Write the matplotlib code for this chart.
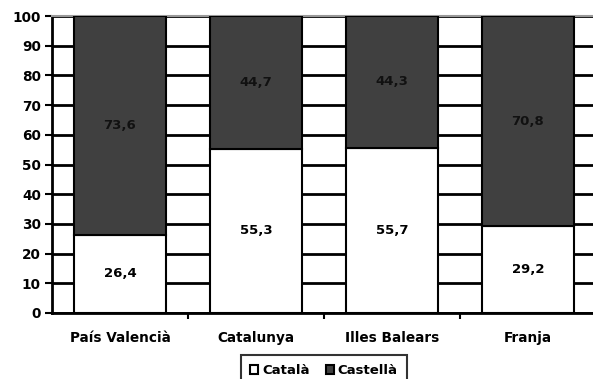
import numpy as np
import matplotlib.pyplot as plt
from matplotlib.patches import Patch

regions = ["País Valencià", "Catalunya", "Illes Balears", "Franja"]
catala = [26.4, 55.3, 55.7, 29.2]
castella = [73.6, 44.7, 44.3, 70.8]
series_names = ["Català", "Castellà"]

plt.rcParams["font.family"] = "DejaVu Sans"
plt.rcParams["font.weight"] = "bold"

fig = plt.figure(figsize=(5.93, 3.79), dpi=100)
ax = fig.add_axes([52 / 593, 1 - 313 / 379, 544 / 593, 297 / 379])

x = np.arange(len(regions))
w = 0.67
ax.bar(x, catala, w, color="white", edgecolor="black", linewidth=1.5, zorder=3)
ax.bar(x, castella, w, bottom=catala, color="#404040", edgecolor="black",
       linewidth=1.5, zorder=3)

for i in range(len(regions)):
    ax.text(x[i], catala[i] / 2, f"{catala[i]:.1f}".replace(".", ","),
            ha="center", va="center", fontsize=9.5, fontweight="bold", zorder=4)
    ax.text(x[i], catala[i] + castella[i] / 2,
            f"{castella[i]:.1f}".replace(".", ","),
            ha="center", va="center", fontsize=9.5, fontweight="bold",
            color="#111111", zorder=4)

ax.set_xlim(-0.5, len(regions) - 0.5)
ax.set_ylim(0, 100)
ax.set_yticks(range(0, 101, 10))
ax.yaxis.grid(True, color="black", linewidth=2)
ax.set_axisbelow(True)

ax.set_xticks(x)
ax.set_xticklabels(regions, fontsize=9.8, fontweight="bold")
ax.set_xticks(x[:-1] + 0.5, minor=True)
ax.tick_params(axis="x", which="major", length=0, pad=13)
ax.tick_params(axis="x", which="minor", length=4, width=1.5)
ax.tick_params(axis="y", length=5, width=1.5, labelsize=9.8, pad=3)
for lbl in ax.get_yticklabels():
    lbl.set_fontweight("bold")

ax.spines["left"].set_linewidth(2)
ax.spines["bottom"].set_linewidth(2)
ax.spines["top"].set_color("#999999")
ax.spines["top"].set_linewidth(1.5)
ax.spines["right"].set_visible(False)

handles = [Patch(facecolor="white", edgecolor="black", linewidth=1.5),
           Patch(facecolor="#404040", edgecolor="black", linewidth=1.5)]
leg = fig.legend(handles, series_names, loc="upper center",
                 bbox_to_anchor=(324 / 593, 1 - 355 / 379), ncol=2,
                 fontsize=9.5, frameon=True, fancybox=False, handlelength=0.6,
                 handleheight=0.6, handletextpad=0.3, columnspacing=1.2,
                 borderpad=0.7, borderaxespad=0)
leg.get_frame().set_edgecolor("black")
leg.get_frame().set_linewidth(1.5)
for t in leg.get_texts():
    t.set_fontweight("bold")

fig.savefig("out.png", dpi=100)
